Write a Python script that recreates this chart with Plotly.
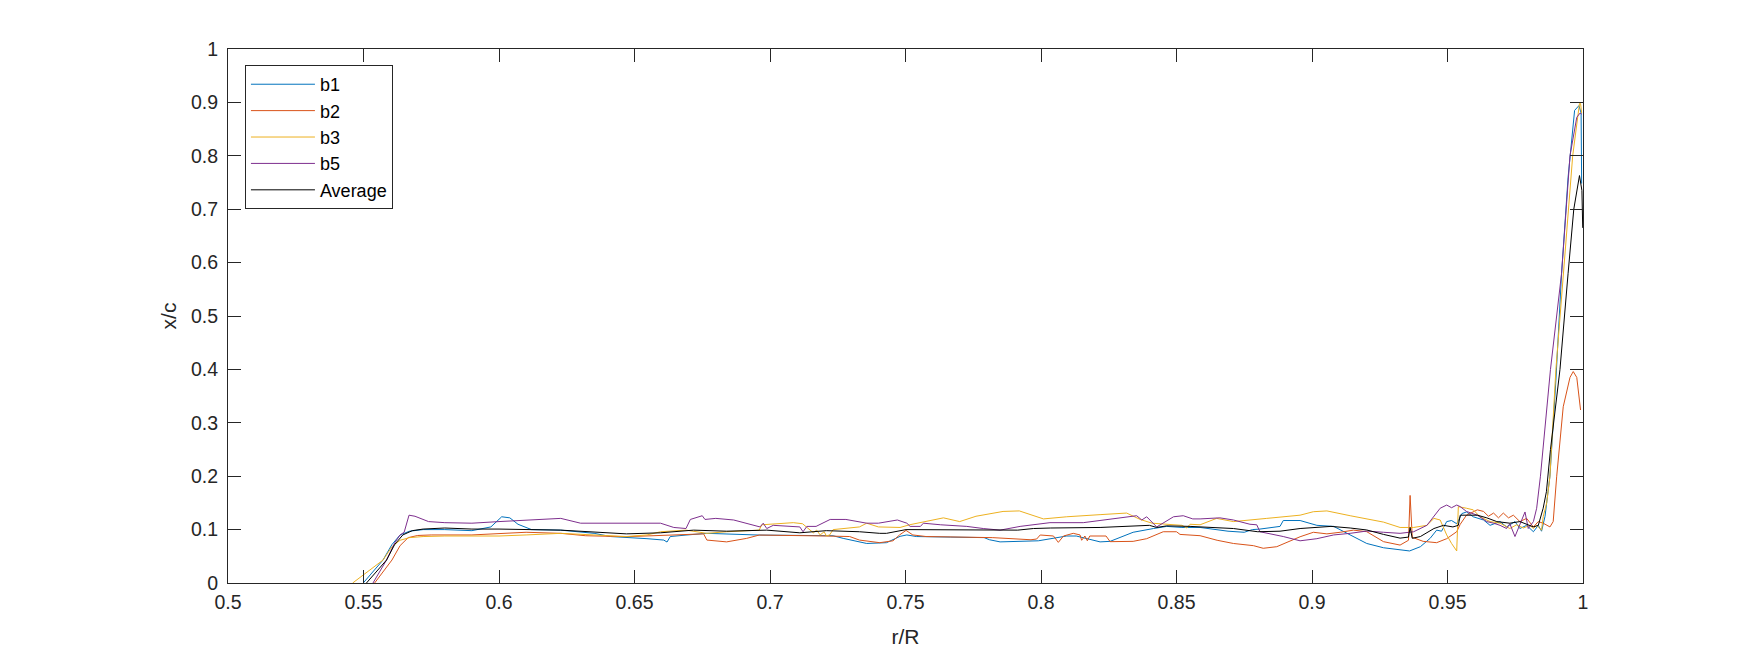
import plotly.graph_objects as go

# ---- data ----
b1_x = [0.5499, 0.5572, 0.5605, 0.5635, 0.567, 0.572, 0.58, 0.59, 0.597, 0.601, 0.604, 0.607, 0.612, 0.6228, 0.6351,
        0.6412, 0.6546, 0.6608, 0.662, 0.6632, 0.669, 0.6767, 0.696, 0.7086, 0.7233, 0.727, 0.7357, 0.743,
        0.748, 0.7505, 0.754, 0.7665, 0.779, 0.781, 0.7849, 0.799, 0.8095, 0.813, 0.8218, 0.8255, 0.834,
        0.8415, 0.8464, 0.852, 0.8587, 0.869, 0.875, 0.878, 0.8808, 0.8882, 0.8894, 0.8956, 0.8993, 0.9018,
        0.908, 0.9141, 0.9202, 0.9264, 0.9325, 0.936, 0.940, 0.9436, 0.946, 0.9478, 0.9497, 0.9515, 0.9534,
        0.9553, 0.957, 0.9595, 0.9633, 0.9657, 0.9694, 0.9718, 0.9749, 0.9767, 0.9792, 0.9817, 0.9835,
        0.9847, 0.986, 0.9878, 0.99, 0.9921, 0.9945, 0.9969, 0.9985, 0.9993, 0.9995]
b1_y = [0.0, 0.043, 0.072, 0.09, 0.097, 0.1, 0.1, 0.098, 0.105, 0.124, 0.122, 0.11, 0.1, 0.099, 0.093,
        0.087, 0.083, 0.0804, 0.0767, 0.087, 0.0898, 0.093, 0.0898, 0.0898, 0.0885, 0.0836, 0.074, 0.0755,
        0.0874, 0.09, 0.087, 0.086, 0.085, 0.081, 0.077, 0.079, 0.088, 0.088, 0.077, 0.078, 0.095,
        0.102, 0.106, 0.104, 0.104, 0.097, 0.095, 0.1, 0.101, 0.106, 0.117, 0.117, 0.112, 0.108,
        0.106, 0.09, 0.074, 0.066, 0.062, 0.06, 0.068, 0.0837, 0.099, 0.097, 0.115, 0.117, 0.111,
        0.13, 0.133, 0.124, 0.118, 0.108, 0.115, 0.105, 0.115, 0.102, 0.108, 0.096, 0.108,
        0.097, 0.125, 0.2, 0.38, 0.58, 0.76, 0.885, 0.894, 0.88, 0.748]

b2_x = [0.5541, 0.5605, 0.5635, 0.5665, 0.57, 0.575, 0.59, 0.6, 0.61, 0.6228, 0.632, 0.647, 0.6679, 0.6755, 0.6767,
        0.684, 0.6914, 0.696, 0.7208, 0.7294, 0.733, 0.7405, 0.7454, 0.7478, 0.7502, 0.7527, 0.7576, 0.782,
        0.7963, 0.7984, 0.7997, 0.8046, 0.8064, 0.8083, 0.8119, 0.8144, 0.815, 0.8162, 0.8171, 0.818, 0.824,
        0.8255, 0.834, 0.839, 0.8451, 0.85, 0.8513, 0.8587, 0.865, 0.871, 0.8784, 0.882, 0.887, 0.8956,
        0.9005, 0.9055, 0.9104, 0.9153, 0.9202, 0.9264, 0.9325, 0.9356, 0.9362, 0.937, 0.938, 0.941, 0.946,
        0.9497, 0.9534, 0.9547, 0.957, 0.961, 0.9633, 0.9651, 0.967, 0.9688, 0.9706, 0.9725, 0.9743, 0.9767,
        0.9792, 0.9817, 0.9835, 0.9853, 0.9878, 0.989, 0.9903, 0.9927, 0.9952, 0.9964, 0.9977, 0.9991]
b2_y = [0.0, 0.043, 0.07, 0.085, 0.089, 0.09, 0.09, 0.092, 0.095, 0.093, 0.0885, 0.0867, 0.0898, 0.092, 0.0804,
        0.077, 0.0836, 0.0898, 0.088, 0.087, 0.0804, 0.0755, 0.079, 0.09, 0.0985, 0.09, 0.087, 0.085,
        0.081, 0.0824, 0.0899, 0.088, 0.0761, 0.088, 0.093, 0.09, 0.08, 0.088, 0.079, 0.088, 0.088,
        0.0774, 0.078, 0.083, 0.096, 0.096, 0.091, 0.0886, 0.08, 0.074, 0.0699, 0.065, 0.068, 0.0866,
        0.095, 0.092, 0.095, 0.099, 0.0961, 0.0774, 0.071, 0.08, 0.164, 0.085, 0.0837, 0.078, 0.0755,
        0.083, 0.096, 0.11, 0.127, 0.137, 0.134, 0.125, 0.131, 0.122, 0.131, 0.122, 0.127, 0.115,
        0.121, 0.105, 0.115, 0.112, 0.105, 0.115, 0.2, 0.33, 0.385, 0.396, 0.385, 0.324]

b3_x = [0.546, 0.5572, 0.5605, 0.5635, 0.567, 0.572, 0.58, 0.59, 0.6, 0.61, 0.6228, 0.635, 0.647, 0.6546, 0.6596,
        0.669, 0.6767, 0.684, 0.696, 0.697, 0.7086, 0.712, 0.7135, 0.7147, 0.716, 0.7172, 0.7185, 0.72,
        0.7208, 0.722, 0.7233, 0.733, 0.7357, 0.74, 0.748, 0.7515, 0.7603, 0.764, 0.770, 0.776, 0.786,
        0.792, 0.8009, 0.8095, 0.8218, 0.8316, 0.8366, 0.841, 0.852, 0.8538, 0.855, 0.8587, 0.8648, 0.871,
        0.8833, 0.8956, 0.9005, 0.9055, 0.9141, 0.9202, 0.9264, 0.9325, 0.9375, 0.9424, 0.945, 0.9473,
        0.9497, 0.9515, 0.9534, 0.954, 0.9558, 0.957, 0.9595, 0.962, 0.9657, 0.9694, 0.973, 0.9755, 0.978,
        0.9804, 0.9817, 0.9829, 0.9847, 0.9853, 0.9866, 0.9878, 0.99, 0.9927, 0.9962, 0.9987, 0.9991, 0.9995]
b3_y = [0.0, 0.043, 0.068, 0.08, 0.085, 0.087, 0.088, 0.088, 0.088, 0.09, 0.093, 0.09, 0.087, 0.09, 0.096,
        0.099, 0.093, 0.096, 0.099, 0.109, 0.113, 0.111, 0.105, 0.099, 0.094, 0.099, 0.09, 0.096,
        0.088, 0.09, 0.1, 0.105, 0.112, 0.105, 0.104, 0.109, 0.118, 0.122, 0.115, 0.125, 0.134,
        0.135, 0.12, 0.124, 0.128, 0.131, 0.119, 0.112, 0.108, 0.103, 0.11, 0.109, 0.121, 0.115,
        0.121, 0.127, 0.1335, 0.135, 0.126, 0.12, 0.114, 0.104, 0.104, 0.108, 0.121, 0.118,
        0.09, 0.074, 0.06, 0.143, 0.142, 0.14, 0.137, 0.124, 0.115, 0.112, 0.102, 0.109, 0.103,
        0.108, 0.102, 0.108, 0.099, 0.124, 0.15, 0.2, 0.4, 0.58, 0.8, 0.898, 0.898, 0.88]

b5_x = [0.5535, 0.5585, 0.5615, 0.5635, 0.565, 0.5668, 0.569, 0.574, 0.58, 0.59, 0.6, 0.61, 0.6228, 0.6301,
        0.634, 0.6375, 0.647, 0.6596, 0.6645, 0.669, 0.6706, 0.675, 0.676, 0.680, 0.6866, 0.6963, 0.6975,
        0.6988, 0.7012, 0.711, 0.7122, 0.7136, 0.717, 0.7222, 0.728, 0.7357, 0.74, 0.747, 0.7505, 0.7517,
        0.7555, 0.7566, 0.763, 0.7726, 0.7787, 0.7849, 0.7923, 0.8033, 0.8156, 0.828, 0.8353, 0.8372, 0.839,
        0.8427, 0.8452, 0.8489, 0.8525, 0.856, 0.8587, 0.866, 0.871, 0.8771, 0.8796, 0.8808, 0.8894, 0.8956,
        0.9018, 0.908, 0.9141, 0.9202, 0.9264, 0.9325, 0.9375, 0.9424, 0.9473, 0.9485, 0.9497, 0.9515,
        0.9534, 0.9547, 0.957, 0.961, 0.9645, 0.967, 0.9694, 0.9718, 0.973, 0.9749, 0.9761, 0.9786, 0.9798,
        0.9817, 0.9829, 0.9843, 0.988, 0.9921, 0.9952, 0.9977, 0.9989, 0.9995]
b5_y = [0.0, 0.043, 0.075, 0.09, 0.095, 0.127, 0.125, 0.115, 0.113, 0.112, 0.115, 0.118, 0.121, 0.112,
        0.112, 0.113, 0.112, 0.112, 0.104, 0.102, 0.119, 0.126, 0.119, 0.121, 0.118, 0.105, 0.112,
        0.102, 0.108, 0.105, 0.096, 0.106, 0.106, 0.119, 0.119, 0.112, 0.112, 0.118, 0.112, 0.106,
        0.106, 0.112, 0.109, 0.106, 0.102, 0.099, 0.106, 0.113, 0.113, 0.121, 0.126, 0.118, 0.124,
        0.105, 0.113, 0.124, 0.126, 0.12, 0.12, 0.122, 0.118, 0.11, 0.109, 0.096, 0.087, 0.079,
        0.083, 0.09, 0.093, 0.0973, 0.095, 0.093, 0.096, 0.108, 0.140, 0.143, 0.146, 0.141,
        0.146, 0.143, 0.134, 0.127, 0.115, 0.112, 0.108, 0.102, 0.111, 0.087, 0.102, 0.133, 0.102,
        0.115, 0.14, 0.2, 0.4, 0.58, 0.8, 0.872, 0.88, 0.878]

avg_x = [0.5511, 0.5585, 0.5615, 0.5645, 0.568, 0.572, 0.58, 0.59, 0.6, 0.61, 0.6228, 0.647, 0.6596, 0.6718, 0.684,
         0.6988, 0.711, 0.7208, 0.733, 0.7405, 0.743, 0.7502, 0.77, 0.779, 0.7914, 0.7972, 0.8036, 0.8218,
         0.834, 0.840, 0.8427, 0.8464, 0.855, 0.8587, 0.871, 0.88, 0.8833, 0.8882, 0.8956, 0.907, 0.9141,
         0.9202, 0.9264, 0.9325, 0.9356, 0.9362, 0.937, 0.94, 0.945, 0.9485, 0.952, 0.954, 0.9547, 0.957,
         0.961, 0.9645, 0.9682, 0.973, 0.9767, 0.9817, 0.9835, 0.9853, 0.9865, 0.988, 0.9915, 0.9945,
         0.9966, 0.9987, 0.9996, 0.9999]
avg_y = [0.0, 0.043, 0.072, 0.09, 0.098, 0.101, 0.103, 0.101, 0.101, 0.1, 0.099, 0.092, 0.094, 0.099, 0.097,
         0.099, 0.094, 0.098, 0.096, 0.093, 0.093, 0.1, 0.1, 0.099, 0.099, 0.102, 0.103, 0.104,
         0.106, 0.108, 0.104, 0.107, 0.106, 0.105, 0.102, 0.096, 0.096, 0.097, 0.102, 0.106, 0.103,
         0.0993, 0.091, 0.084, 0.086, 0.104, 0.0837, 0.087, 0.102, 0.108, 0.105, 0.108, 0.127, 0.127,
         0.127, 0.122, 0.115, 0.112, 0.115, 0.105, 0.108, 0.14, 0.171, 0.25, 0.4, 0.58,
         0.7, 0.763, 0.735, 0.665]

series_names = ["b1", "b2", "b3", "b5", "Average"]
series_colors = ["#0072BD", "#D95319", "#EDB120", "#7E2F8E", "#000000"]
series_x = [b1_x, b2_x, b3_x, b5_x, avg_x]
series_y = [b1_y, b2_y, b3_y, b5_y, avg_y]

x_label = "r/R"
y_label = "x/c"

FONT = "Liberation Sans, Arial, Helvetica, sans-serif"
AXC = "#262626"

fig = go.Figure()
for name, color, xs, ys in zip(series_names, series_colors, series_x, series_y):
    fig.add_trace(go.Scatter(x=xs, y=ys, mode="lines", name=name,
                             line=dict(color=color, width=1)))

axis_common = dict(
    showline=True, linecolor=AXC, linewidth=1, mirror="ticks",
    ticks="inside", ticklen=13, tickwidth=1, tickcolor=AXC,
    showgrid=False, zeroline=False,
    tickfont=dict(family=FONT, size=19.5, color=AXC),
)

fig.update_xaxes(range=[0.5, 1.0], dtick=0.05, tick0=0.5, ticklabelstandoff=2,
                 title=dict(text=x_label, font=dict(family=FONT, size=21, color=AXC), standoff=16),
                 **axis_common)
fig.update_yaxes(range=[0, 1], dtick=0.1, tick0=0, ticklabelstandoff=5,
                 title=dict(text=y_label, font=dict(family=FONT, size=21, color=AXC), standoff=8),
                 **axis_common)

fig.update_layout(
    width=1750, height=656,
    margin=dict(l=220, r=175, t=41, b=81, autoexpand=False),
    paper_bgcolor="white", plot_bgcolor="white",
    showlegend=True,
    legend=dict(x=0.0125, y=0.97, xanchor="left", yanchor="top",
                bgcolor="white", bordercolor=AXC, borderwidth=1,
                font=dict(family=FONT, size=18, color="#000000"),
                itemwidth=64, tracegroupgap=0),
)

fig.write_html("out.html")
